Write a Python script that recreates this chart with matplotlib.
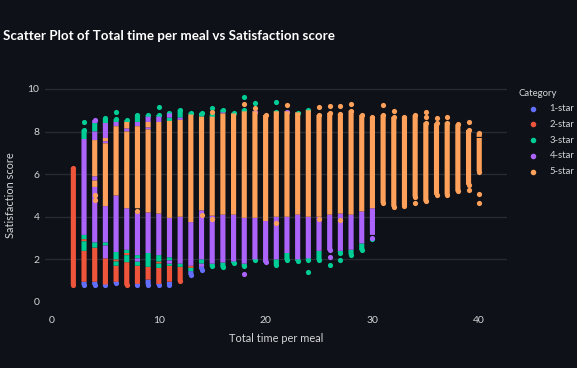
"""
Scatter plot of total time per meal vs satisfaction score, dark theme.
Dense columns of overlapping points are kept as runs (low/high) per category.
"""

import matplotlib
matplotlib.use("Agg")
import matplotlib.pyplot as plt

plt.rcParams["font.family"] = ["Lato", "DejaVu Sans"]

categories = ["1-star", "2-star", "3-star", "4-star", "5-star"]
colors = ["#636EFA", "#EF553B", "#00CC96", "#AB63FA", "#FFA15A"]

# runs of overlapping points: x, lower edge, upper edge
star1_x = [3, 4, 5, 6, 8, 9, 10, 11, 13, 14]
star1_lo = [0.68, 0.68, 0.68, 0.75, 0.68, 0.7, 0.68, 0.68, 1.15, 1.4]
star1_hi = [0.95, 0.95, 0.82, 0.95, 0.85, 1.05, 0.85, 0.95, 1.45, 1.65]

star2_x = [2, 3, 3, 4, 5, 6, 6, 7, 7, 8, 9, 10, 10, 11, 12, 13]
star2_lo = [0.68, 0.95, 2.85, 0.95, 0.82, 0.95, 1.9, 0.66, 2.2, 0.85, 1.05, 0.85, 1.8, 0.95, 0.85, 1.6]
star2_hi = [6.42, 2.4, 2.95, 2.55, 2.05, 1.7, 2.0, 1.87, 2.3, 1.7, 1.65, 1.6, 1.9, 1.7, 1.65, 1.7]

star3_x = [3, 3, 3, 4, 4, 5, 5, 6, 6, 6, 7, 7, 7, 8, 8, 8, 9, 9, 10, 10, 10,
           11, 11, 11, 11, 12, 12, 13, 13, 14, 14, 15, 15, 16, 16, 17, 17, 18, 18,
           19, 20, 21, 21, 22, 23, 23, 24, 24, 25, 27, 28, 29, 30]
star3_lo = [2.4, 2.95, 7.65, 2.55, 8.0, 2.65, 8.4, 2.0, 1.7, 8.45, 1.87, 2.3, 8.45, 1.7, 2.05, 8.45, 1.65, 8.7, 1.6, 1.9, 8.7,
            1.7, 1.95, 8.45, 8.85, 1.65, 8.65, 1.45, 8.8, 1.8, 8.7, 1.55, 8.7, 1.5, 8.9, 1.7, 8.85, 1.55, 8.95,
            1.85, 1.85, 1.6, 8.95, 1.85, 1.8, 8.9, 1.85, 9.0, 1.85, 2.2, 2.1, 2.3, 2.85]
star3_hi = [2.85, 3.15, 8.2, 2.8, 8.4, 2.8, 8.75, 2.35, 1.9, 8.7, 2.2, 2.45, 8.65, 1.9, 2.2, 8.9, 2.3, 8.9, 1.8, 2.2, 8.9,
            1.8, 2.1, 8.65, 9.0, 1.8, 9.15, 1.6, 9.0, 2.0, 9.0, 1.8, 8.9, 1.85, 9.15, 1.9, 9.0, 1.8, 9.15,
            2.0, 1.95, 2.0, 9.05, 2.3, 2.0, 9.0, 2.05, 9.15, 2.4, 2.4, 2.45, 2.75, 2.95]

star4_x = [3, 4, 4, 4, 4, 5, 5, 5, 5, 6, 6, 7, 7, 8, 8, 8, 9, 9, 9, 10, 10,
           11, 11, 11, 12, 12, 13, 14, 14, 15, 16, 16, 17, 18, 19, 19, 20, 21, 22, 22,
           23, 24, 25, 26, 27, 28, 29, 30]
star4_lo = [3.15, 2.8, 5.7, 7.6, 8.4, 2.8, 2.05, 7.7, 7.45, 2.35, 8.25, 2.45, 8.0, 2.2, 1.9, 8.25, 2.3, 8.45, 8.1, 2.2, 8.45,
            2.1, 1.8, 8.65, 1.8, 8.55, 1.7, 1.65, 2.0, 1.8, 1.85, 8.85, 1.9, 1.8, 2.0, 8.95, 1.75, 2.0, 2.3, 8.95,
            2.0, 2.05, 2.4, 2.3, 2.4, 2.45, 2.75, 3.15]
star4_hi = [7.65, 5.4, 5.9, 8.0, 8.65, 4.5, 2.65, 8.4, 7.55, 5.0, 8.45, 4.4, 8.15, 4.2, 2.05, 8.45, 4.2, 8.7, 8.2, 4.15, 8.7,
            3.95, 1.95, 8.85, 4.0, 8.65, 3.75, 1.8, 4.3, 4.05, 4.1, 8.9, 4.1, 3.95, 3.95, 9.05, 3.8, 4.0, 4.0, 9.05,
            4.1, 4.0, 4.0, 4.1, 4.15, 4.1, 4.25, 4.4]

star5_x = [4, 4, 5, 5, 6, 7, 7, 8, 9, 9, 10, 11, 12, 13, 14, 15, 16, 17, 18, 19, 20, 21, 22, 23, 24, 25, 26, 27,
           28, 29, 30, 31, 32, 33, 34, 35, 36, 37, 38, 39, 40, 40]
star5_lo = [5.9, 5.4, 4.5, 7.55, 5.0, 4.4, 8.15, 4.4, 4.2, 8.2, 4.15, 3.95, 4.0, 3.75, 4.3, 4.05, 4.1, 4.1, 3.95, 3.95,
            3.8, 4.0, 4.0, 4.1, 4.0, 4.0, 4.1, 4.15, 4.1, 4.25, 4.4, 4.52, 4.35, 4.4, 4.82, 4.6, 4.91, 4.91, 5.07, 5.38,
            6.0, 7.75]
star5_hi = [7.6, 5.7, 7.45, 7.7, 8.25, 8.0, 8.45, 8.25, 8.1, 8.45, 8.45, 8.5, 8.55, 8.8, 8.7, 8.7, 8.85, 8.85, 8.95, 8.95,
            8.9, 8.95, 8.95, 8.9, 9.0, 8.9, 9.0, 8.95, 9.1, 8.9, 8.8, 8.9, 8.81, 8.81, 8.89, 8.54, 8.51, 8.54, 8.46, 8.2,
            7.7, 8.05]

# points that stand apart from the runs
star3_px = [3, 6, 10, 15, 18, 19, 21, 24, 26, 27]
star3_py = [8.43, 8.93, 9.15, 9.1, 9.6, 9.35, 9.4, 1.4, 1.75, 1.97]
star4_px = [18, 26, 30]
star4_py = [1.3, 2.1, 3.0]
star5_px = [4, 4, 8, 14, 15, 15, 18, 19, 21, 22, 25, 25, 26, 27, 27, 28, 31, 32, 34, 35, 35, 36, 37, 39, 39, 40, 40]
star5_py = [4.8, 5.0, 4.25, 4.1, 8.9, 3.9, 9.3, 9.1, 3.7, 9.25, 9.15, 3.9, 9.2, 9.2, 3.85, 9.3, 9.25, 8.98, 4.65, 8.9,
            8.7, 8.63, 8.7, 8.43, 5.25, 5.07, 4.65]

x_ticks = [0, 10, 20, 30, 40]
y_ticks = [0, 2, 4, 6, 8, 10]

BG = "#0E1117"
GRID = "#262A33"
TEXT = "#D5D6D8"
CAP = 0.12  # marker radius in data units


def main():
    fig = plt.figure(figsize=(5.77, 3.68), dpi=100, facecolor=BG)
    ax = fig.add_axes([45 / 577, 1 - 310 / 368, 462 / 577, 230 / 368], facecolor=BG)

    runs = [
        (star1_x, star1_lo, star1_hi),
        (star2_x, star2_lo, star2_hi),
        (star3_x, star3_lo, star3_hi),
        (star4_x, star4_lo, star4_hi),
        (star5_x, star5_lo, star5_hi),
    ]
    points = [([], []), ([], []), (star3_px, star3_py), (star4_px, star4_py), (star5_px, star5_py)]

    # overall extent of each column, so only the true ends get rounded
    col_lo, col_hi = {}, {}
    for xs, lo, hi in runs:
        for x, a, b in zip(xs, lo, hi):
            col_lo[x] = min(col_lo.get(x, a), a)
            col_hi[x] = max(col_hi.get(x, b), b)

    for i, (xs, lo, hi) in enumerate(runs):
        lo2, hi2, dot_x, dot_y = [], [], list(points[i][0]), list(points[i][1])
        for x, a, b in zip(xs, lo, hi):
            a2 = a + CAP if a == col_lo[x] else a
            b2 = b - CAP if b == col_hi[x] else b
            if a2 != a:
                dot_x.append(x)
                dot_y.append(a2)
            if b2 != b:
                dot_x.append(x)
                dot_y.append(b2)
            lo2.append(a2)
            hi2.append(b2)
        lines = ax.vlines(xs, lo2, hi2, color=colors[i], linewidth=3.7, capstyle="butt", zorder=3 + i)
        lines.set_snap(False)
        ax.scatter(dot_x, dot_y, s=14, color=colors[i], linewidths=0, zorder=3 + i)
        # empty scatter just for the legend entry
        ax.scatter([], [], s=16, color=colors[i], linewidths=0, label=categories[i])

    ax.set_xlim(-0.655, 42.6)
    ax.set_ylim(-0.376, 10.42)
    ax.set_xticks(x_ticks)
    ax.set_yticks(y_ticks)
    ax.tick_params(length=0, labelsize=7.5, labelcolor=TEXT, pad=4)
    ax.grid(True, axis="y", color=GRID, linewidth=1)
    ax.set_axisbelow(True)
    ax.get_ygridlines()[0].set_visible(False)
    for spine in ax.spines.values():
        spine.set_visible(False)

    ax.set_xlabel("Total time per meal", fontsize=7.9, color=TEXT, labelpad=6)
    ax.set_ylabel("Satisfaction score", fontsize=7.9, color=TEXT, labelpad=8)

    fig.text(3 / 577, 1 - 36 / 368, "Scatter Plot of Total time per meal vs Satisfaction score",
             fontsize=9.65, fontweight="bold", color="white", va="center")

    leg = ax.legend(title="Category", loc="upper left", bbox_to_anchor=(1.024, 0.963), frameon=False,
                    fontsize=6.8, title_fontsize=6.9, labelcolor=TEXT, handlelength=3.1, handletextpad=0.25,
                    labelspacing=0.71, borderaxespad=0, borderpad=0)
    leg.get_title().set_color(TEXT)
    leg._legend_box.align = "left"

    fig.savefig("out.png", dpi=100, facecolor=BG)
    plt.close(fig)


if __name__ == "__main__":
    main()
